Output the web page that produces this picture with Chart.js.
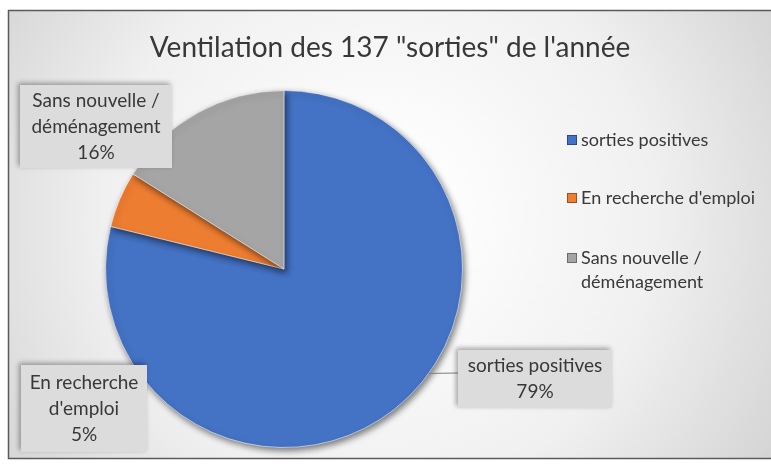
<!DOCTYPE html>
<html>
<head>
<meta charset="utf-8">
<script src="https://cdn.jsdelivr.net/npm/chart.js@4"></script>
<style>
  html, body { margin: 0; padding: 0; background: #fff; }
  #wrap { width: 771px; height: 465px; }
</style>
</head>
<body>
<div id="wrap"><canvas id="pieChart"></canvas></div>
<script>
var chartTitle = 'Ventilation des 137 "sorties" de l\'année';
var categories = ['sorties positives', "En recherche d'emploi", 'Sans nouvelle / déménagement'];
var counts = [108, 7, 22];
var percentLabels = ['79%', '5%', '16%'];
var legendLines = [['sorties positives'], ["En recherche d'emploi"], ['Sans nouvelle /', 'déménagement']];
var boxLines = [['sorties positives', '79%'], ['En recherche', "d'emploi", '5%'], ['Sans nouvelle /', 'déménagement', '16%']];

var colors = ['#4472C4', '#ED7D31', '#A5A5A5'];
var textColor = '#383838';
var fontFamily = 'Lato, "Open Sans", sans-serif';

// where the data label boxes sit (left, top, width, height)
var boxLayout = [
    { x: 458, y: 350, w: 154, h: 58, leader: true },
    { x: 21, y: 365, w: 126, h: 87 },
    { x: 20, y: 85, w: 152, h: 83 }
];

var framePlugin = {
    id: 'frame',
    beforeDraw: function (chart) {
        var c = chart.ctx;
        c.save();
        c.fillStyle = '#fff';
        c.fillRect(0, 0, chart.width, chart.height);
        var g = c.createRadialGradient(380, 210, 40, 380, 230, 470);
        g.addColorStop(0, '#ffffff');
        g.addColorStop(0.55, '#f0f0f0');
        g.addColorStop(1, '#d2d2d2');
        c.fillStyle = g;
        c.fillRect(8, 10, 763, 449);
        c.strokeStyle = '#5a5a5a';
        c.lineWidth = 1.5;
        c.strokeRect(8.5, 10.5, 770, 448);
        // title
        c.fillStyle = textColor;
        c.font = '28px ' + fontFamily;
        c.textAlign = 'center';
        c.textBaseline = 'middle';
        c.fillText(chartTitle, 390, 48);
        c.restore();
    },
    beforeDatasetsDraw: function (chart) {
        var c = chart.ctx;
        c.save();
        c.shadowColor = 'rgba(0,0,0,0.5)';
        c.shadowBlur = 6;
        c.shadowOffsetX = 2;
        c.shadowOffsetY = 3;
    },
    afterDatasetsDraw: function (chart) {
        var c = chart.ctx;
        c.restore();
        var arcs = chart.getDatasetMeta(0).data;
        c.save();
        c.font = '19px ' + fontFamily;
        c.textAlign = 'center';
        c.textBaseline = 'middle';
        boxLines.forEach(function (lines, i) {
            var b = boxLayout[i];
            if (b.leader) {
                var a = arcs[i];
                var tx = b.x, ty = b.y + b.h / 2 - 6;
                var ang = Math.atan2(ty + 10 - a.y, tx - 16 - a.x);
                var sx = a.x + Math.cos(ang) * a.outerRadius;
                var sy = a.y + Math.sin(ang) * a.outerRadius;
                c.strokeStyle = '#7f7f7f';
                c.lineWidth = 1;
                c.beginPath();
                c.moveTo(sx, sy);
                c.lineTo(tx, ty);
                c.stroke();
            }
            c.save();
            c.shadowColor = 'rgba(0,0,0,0.35)';
            c.shadowBlur = 5;
            c.shadowOffsetX = -2;
            c.shadowOffsetY = -2;
            c.fillStyle = '#dcdcdc';
            c.fillRect(b.x, b.y, b.w, b.h);
            c.restore();
            c.fillStyle = textColor;
            var step = 26;
            var y0 = b.y + b.h / 2 - (lines.length - 1) * step / 2;
            lines.forEach(function (t, k) {
                c.fillText(t, b.x + b.w / 2, y0 + k * step);
            });
        });
        // legend
        c.font = '18px ' + fontFamily;
        c.textAlign = 'left';
        var rows = [140, 198, 258];
        legendLines.forEach(function (lines, i) {
            var y = rows[i];
            c.fillStyle = colors[i];
            c.fillRect(567, y - 5, 10, 10);
            c.strokeStyle = 'rgba(0,0,0,0.35)';
            c.strokeRect(567.5, y - 4.5, 9, 9);
            c.fillStyle = textColor;
            lines.forEach(function (t, k) {
                c.fillText(t, 581, y + k * 24);
            });
        });
        c.restore();
    }
};

var ctx = document.getElementById('pieChart').getContext('2d');
new Chart(ctx, {
    type: 'pie',
    data: {
        labels: categories,
        datasets: [{
            data: counts,
            backgroundColor: colors,
            borderColor: 'rgba(255,255,255,0.55)',
            borderWidth: 1
        }]
    },
    options: {
        responsive: true,
        maintainAspectRatio: false,
        animation: false,
        layout: {
            padding: { left: 105, right: 308, top: 90, bottom: 17 }
        },
        plugins: {
            legend: { display: false },
            tooltip: { enabled: false }
        }
    },
    plugins: [framePlugin]
});
</script>
</body>
</html>
